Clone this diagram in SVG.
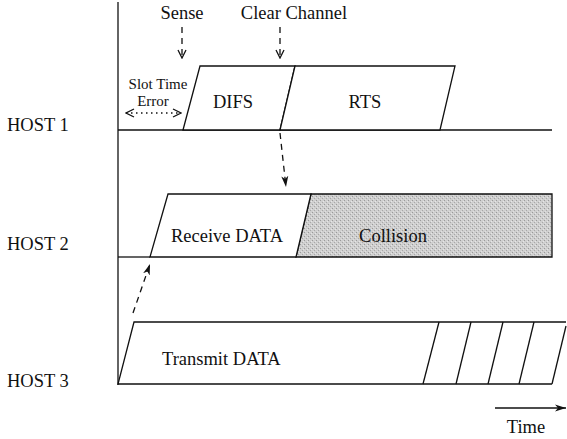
<svg xmlns="http://www.w3.org/2000/svg" width="567" height="439" viewBox="0 0 567 439">
<style>
text{font-family:"Liberation Serif","Times New Roman",serif;font-size:18.5px;fill:#111}
.sm{font-size:15px}
.ln{stroke:#111;stroke-width:1.3;fill:none}
.box{stroke:#111;stroke-width:1.3;fill:#fff}
.dash{stroke:#111;stroke-width:1.3;fill:none;stroke-dasharray:6 5}
.dot{stroke:#111;stroke-width:1.3;fill:none;stroke-dasharray:1.5 3.5}
</style>
<defs>
<marker id="v" viewBox="0 0 10 10" refX="9" refY="5" markerWidth="10" markerHeight="10" markerUnits="userSpaceOnUse" orient="auto-start-reverse">
<path d="M1,1 L9,5 L1,9" fill="none" stroke="#111" stroke-width="1.3"/>
</marker>
<marker id="f" viewBox="0 0 12 10" refX="11" refY="5" markerWidth="12" markerHeight="10" markerUnits="userSpaceOnUse" orient="auto">
<path d="M0,1.5 L11,5 L0,8.5 L3,5 Z" fill="#111"/>
</marker>
<pattern id="grain" width="4" height="4" patternUnits="userSpaceOnUse">
<rect width="4" height="4" fill="#cfcfcf"/>
<rect x="0" y="0" width="1" height="1" fill="#9a9a9a"/>
<rect x="2" y="2" width="1" height="1" fill="#a8a8a8"/>
<rect x="3" y="1" width="1" height="1" fill="#e6e6e6"/>
<rect x="1" y="3" width="1" height="1" fill="#e0e0e0"/>
</pattern>
</defs>

<g id="axis">
<line class="ln" x1="118" y1="2" x2="118" y2="385"/>
</g>

<g id="labels">
<text x="7" y="131">HOST 1</text>
<text x="7" y="250">HOST 2</text>
<text x="7" y="387">HOST 3</text>
</g>

<g id="host1">
<line class="ln" x1="118" y1="130" x2="552" y2="130"/>
<g id="difs">
<polygon class="box" points="183,130 200,66 295,66 280,130"/>
<text x="233" y="108" text-anchor="middle">DIFS</text>
</g>
<g id="rts">
<polygon class="box" points="280,130 295,66 455,66 440,130"/>
<text x="365" y="108" text-anchor="middle">RTS</text>
</g>
<g id="slot">
<text class="sm" x="158" y="89" text-anchor="middle">Slot Time</text>
<text class="sm" x="153" y="106" text-anchor="middle">Error</text>
</g>
</g>

<g id="host2">
<line class="ln" x1="118" y1="257" x2="150" y2="257"/>
<g id="collision">
<polygon points="296,257 311,194 552,194 552,257" fill="url(#grain)" stroke="#111" stroke-width="1.3"/>
<text x="393" y="242" text-anchor="middle">Collision</text>
</g>
<g id="receive">
<polygon class="box" points="150,257 168,194 311,194 296,257"/>
<text x="227" y="242" text-anchor="middle">Receive DATA</text>
</g>
</g>

<g id="host3">
<g id="transmit">
<polyline class="ln" points="566,322 134,322 118,384 552,384"/>
<line class="ln" x1="423" y1="384" x2="439" y2="322"/>
<line class="ln" x1="456" y1="384" x2="471" y2="322"/>
<line class="ln" x1="488" y1="384" x2="503" y2="322"/>
<line class="ln" x1="519" y1="384" x2="534" y2="322"/>
<line class="ln" x1="552" y1="384" x2="566" y2="326"/>
<text x="162" y="365">Transmit DATA</text>
</g>
</g>

<g id="top-labels">
<text x="182" y="19" text-anchor="middle">Sense</text>
<text x="294" y="19" text-anchor="middle">Clear Channel</text>
<text x="526" y="433" text-anchor="middle">Time</text>
</g>

<g id="connectors">
<line class="dash" x1="182" y1="27" x2="182" y2="58" marker-end="url(#v)"/>
<line class="dash" x1="280" y1="27" x2="280" y2="58" marker-end="url(#v)"/>
<line class="dot" x1="126" y1="113" x2="181" y2="113" marker-start="url(#v)" marker-end="url(#v)"/>
<line class="dash" x1="280" y1="133" x2="286" y2="187" marker-end="url(#f)"/>
<line class="dash" x1="133" y1="313" x2="150" y2="264" marker-end="url(#f)"/>
<line class="ln" x1="495" y1="408" x2="566" y2="408" marker-end="url(#f)"/>
</g>
</svg>
